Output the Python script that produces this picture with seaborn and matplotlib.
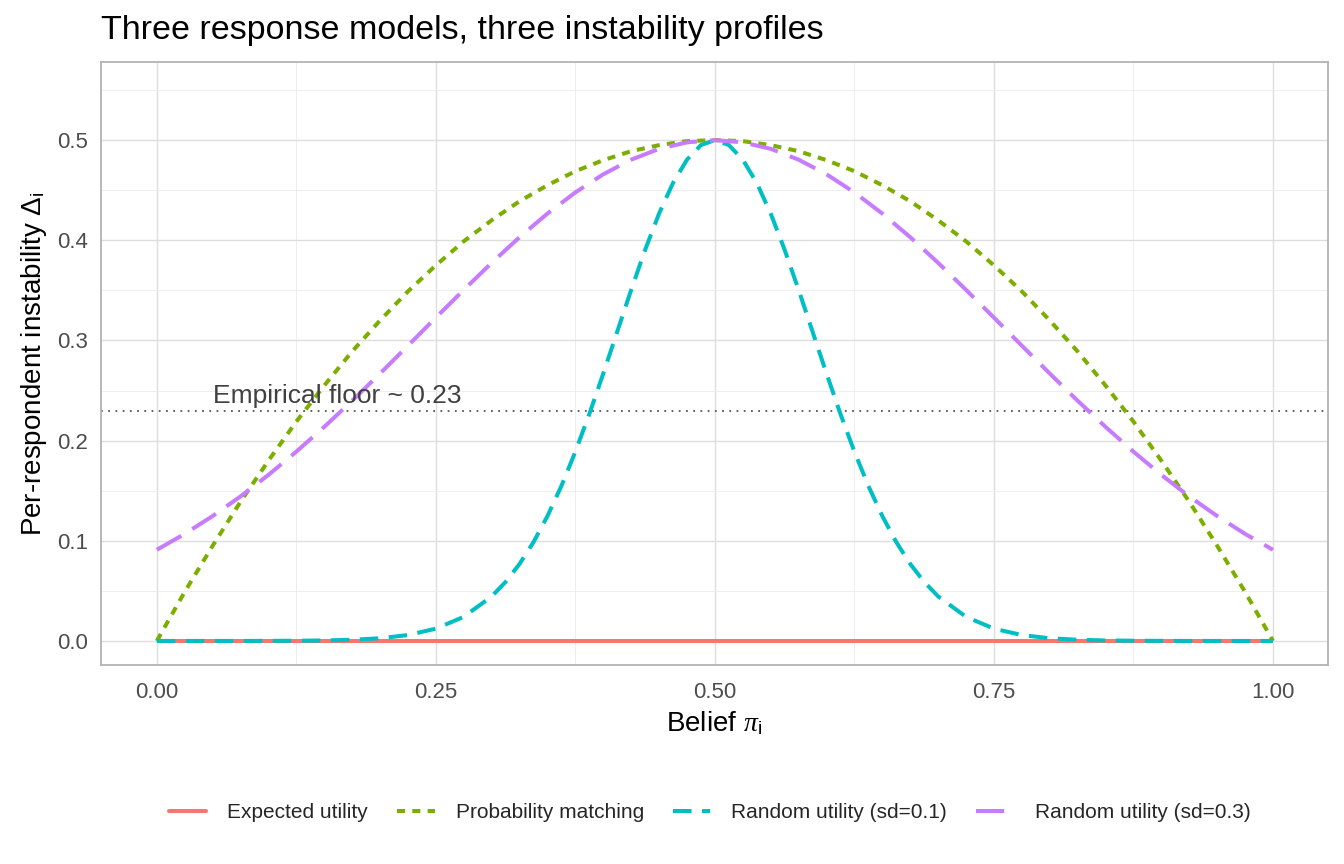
import numpy as np
import pandas as pd
import matplotlib
matplotlib.use("Agg")
import matplotlib.pyplot as plt
import seaborn as sns
from matplotlib.lines import Line2D

# ---------------- data ----------------
belief = [0.000, 0.025, 0.050, 0.075, 0.100, 0.125, 0.150, 0.175, 0.200, 0.225,
          0.250, 0.275, 0.300, 0.325, 0.350, 0.375, 0.400, 0.425, 0.450, 0.475,
          0.500, 0.525, 0.550, 0.575, 0.600, 0.625, 0.650, 0.675, 0.700, 0.725,
          0.750, 0.775, 0.800, 0.825, 0.850, 0.875, 0.900, 0.925, 0.950, 0.975, 1.000]

expected_utility = [0.0] * 41

prob_matching = [0.000, 0.049, 0.095, 0.139, 0.180, 0.219, 0.255, 0.289, 0.320, 0.349,
                 0.375, 0.399, 0.420, 0.439, 0.455, 0.469, 0.480, 0.489, 0.495, 0.499,
                 0.500, 0.499, 0.495, 0.489, 0.480, 0.469, 0.455, 0.439, 0.420, 0.399,
                 0.375, 0.349, 0.320, 0.289, 0.255, 0.219, 0.180, 0.139, 0.095, 0.049, 0.000]

# the narrow sd=0.1 curve is read on a finer grid around its peak
belief_fine = [0.000, 0.025, 0.050, 0.075, 0.100, 0.125, 0.150, 0.175, 0.200, 0.225,
               0.250, 0.275, 0.300, 0.3125, 0.325, 0.3375, 0.350, 0.3625, 0.375, 0.3875,
               0.400, 0.4125, 0.425, 0.4375, 0.450, 0.4625, 0.475, 0.4875, 0.500,
               0.5125, 0.525, 0.5375, 0.550, 0.5625, 0.575, 0.5875, 0.600, 0.6125,
               0.625, 0.6375, 0.650, 0.6625, 0.675, 0.6875, 0.700, 0.725, 0.750, 0.775,
               0.800, 0.825, 0.850, 0.875, 0.900, 0.925, 0.950, 0.975, 1.000]

random_sd01 = [0.0000, 0.0000, 0.0000, 0.0000, 0.0001, 0.0002, 0.0005, 0.0012, 0.0027, 0.0059,
               0.0123, 0.0241, 0.0445, 0.0590, 0.0769, 0.0987, 0.1247, 0.1548, 0.1890, 0.2266,
               0.2670, 0.3088, 0.3505, 0.3905, 0.4267, 0.4573, 0.4805, 0.4951, 0.5000,
               0.4951, 0.4805, 0.4573, 0.4267, 0.3905, 0.3505, 0.3088, 0.2670, 0.2266,
               0.1890, 0.1548, 0.1247, 0.0987, 0.0769, 0.0590, 0.0445, 0.0241, 0.0123, 0.0059,
               0.0027, 0.0012, 0.0005, 0.0002, 0.0001, 0.0000, 0.0000, 0.0000, 0.0000]

random_sd03 = [0.0910, 0.1069, 0.1247, 0.1443, 0.1658, 0.1890, 0.2137, 0.2398, 0.2670, 0.2948,
               0.3228, 0.3505, 0.3775, 0.4031, 0.4267, 0.4478, 0.4659, 0.4805, 0.4913, 0.4978,
               0.5000, 0.4978, 0.4913, 0.4805, 0.4659, 0.4478, 0.4267, 0.4031, 0.3775, 0.3505,
               0.3228, 0.2948, 0.2670, 0.2398, 0.2137, 0.1890, 0.1658, 0.1443, 0.1247, 0.1069, 0.0910]

models = ["Expected utility", "Probability matching",
          "Random utility (sd=0.1)", "Random utility (sd=0.3)"]
floor_value = 0.23
floor_label = "Empirical floor ~ 0.23"
x_ticks = [0.00, 0.25, 0.50, 0.75, 1.00]
y_ticks = [0.0, 0.1, 0.2, 0.3, 0.4, 0.5]

# ---------------- styling ----------------
colors = ["#F8766D", "#7CAE00", "#00BFC4", "#C77CFF"]
dash_map = {models[0]: "", models[1]: (2.0, 1.8),
            models[2]: (4.6, 2.6), models[3]: (7.0, 3.2)}

sns.set_theme(style="whitegrid")
plt.rcParams["font.family"] = ["Liberation Sans", "DejaVu Sans"]
plt.rcParams["mathtext.fontset"] = "custom"
plt.rcParams["mathtext.rm"] = "Liberation Sans"
plt.rcParams["mathtext.it"] = "Liberation Serif:italic"

df = pd.DataFrame({
    "belief": belief + belief + belief_fine + belief,
    "value": expected_utility + prob_matching + random_sd01 + random_sd03,
    "model": ([models[0]] * len(belief) + [models[1]] * len(belief)
              + [models[2]] * len(belief_fine) + [models[3]] * len(belief)),
})

fig = plt.figure(figsize=(13.44, 8.64), dpi=100)
ax = fig.add_axes([101 / 1344, 1 - 665 / 864, (1328 - 101) / 1344, (665 - 62) / 864])

lw = 2.9
sns.lineplot(data=df, x="belief", y="value", hue="model", style="model",
             hue_order=models, style_order=models,
             palette=dict(zip(models, colors)), dashes=dash_map,
             linewidth=lw, legend=False, ax=ax, estimator=None, sort=False)
for ln in ax.lines:
    ln.set_dash_capstyle("butt")
    ln.set_solid_capstyle("butt")

ax.axhline(floor_value, color="#555555", linestyle=(0, (1, 3)), linewidth=1.3, zorder=1)
ax.text(0.05, floor_value + 0.003, floor_label, ha="left", va="bottom",
        fontsize=19, color="#404040")

ax.set_xlim(-0.05, 1.0493)
ax.set_ylim(-0.024, 0.578)
ax.set_xticks(x_ticks)
ax.set_xticklabels([f"{v:.2f}" for v in x_ticks])
ax.set_yticks(y_ticks)
ax.set_yticklabels([f"{v:.1f}" for v in y_ticks])
ax.set_xticks([0.125, 0.375, 0.625, 0.875], minor=True)
ax.set_yticks([0.05, 0.15, 0.25, 0.35, 0.45, 0.55], minor=True)
ax.grid(True, which="major", color="#DEDEDE", linewidth=1.0)
ax.grid(True, which="minor", color="#EBEBEB", linewidth=0.6)
ax.set_axisbelow(True)
for s in ax.spines.values():
    s.set_visible(True)
    s.set_color("#B3B3B3")
    s.set_linewidth(1.3)
ax.tick_params(axis="both", which="major", labelsize=16, colors="#4D4D4D",
               length=4, width=1.0, color="#B3B3B3")
ax.tick_params(axis="x", which="major", pad=8)
ax.tick_params(axis="y", which="major", pad=5)
ax.tick_params(axis="both", which="minor", length=0)
for lbl in ax.get_xticklabels() + ax.get_yticklabels():
    lbl.set_color("#4D4D4D")

ax.set_xlabel(r"Belief $\mathit{\pi}_\mathrm{i}$", fontsize=20, color="black", labelpad=5)
ax.set_ylabel(r"Per-respondent instability $\Delta_\mathrm{i}$", fontsize=20,
              color="black", labelpad=6)

fig.text(101 / 1344, 1 - 31 / 864, "Three response models, three instability profiles",
         fontsize=24.5, ha="left", va="center", color="black")

handles = [Line2D([0], [0], color=c, linewidth=lw,
                  linestyle=("-" if dash_map[m] == "" else (0, dash_map[m])),
                  dash_capstyle="butt")
           for m, c in zip(models, colors)]
fig.legend(handles, models, loc="center", bbox_to_anchor=(0.528, 1 - 813 / 864),
           ncol=4, frameon=False, fontsize=15, handlelength=1.8,
           columnspacing=1.4, handletextpad=1.0)

fig.savefig("out.png", dpi=100)
